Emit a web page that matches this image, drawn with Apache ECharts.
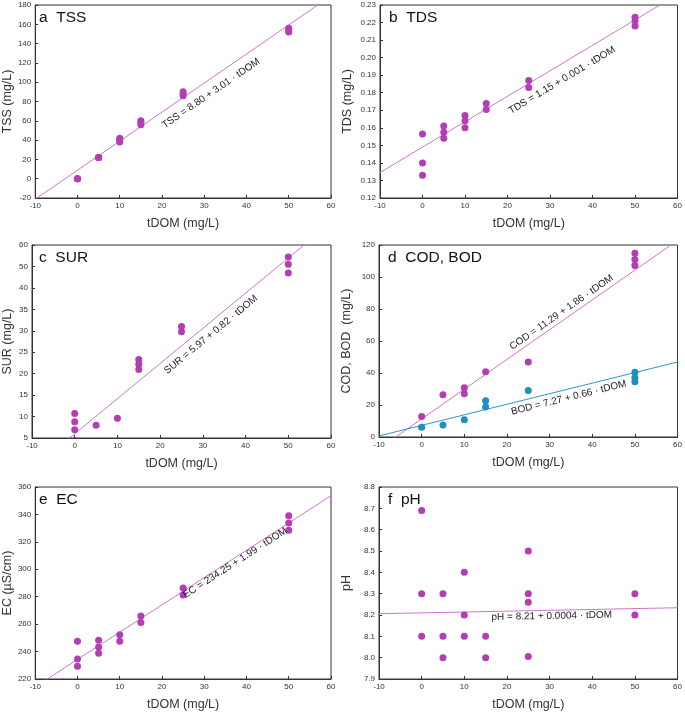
<!DOCTYPE html>
<html>
<head>
<meta charset="utf-8">
<script src="https://cdn.jsdelivr.net/npm/echarts@6/dist/echarts.min.js"></script>
<style>
html,body{margin:0;padding:0;background:#fff;}
#chart{width:685px;height:712px;}
</style>
</head>
<body>
<div id="chart"></div>
<script>
// ---------- data ----------
var tssX = [0,0,0,5,5,5,10,10,10,15,15,15,25,25,25,50,50,50];
var tssY = [0,0,0,22,22,22,42,40,38,60,58,56,90,88,86,156,154,152];

var tdsX = [0,0,0,5,5,5,10,10,10,15,15,25,25,50,50,50];
var tdsY = [0.1565,0.140,0.133,0.161,0.1575,0.154,0.167,0.164,0.160,0.1738,0.1705,0.187,0.183,0.223,0.221,0.218];

// SUR is plotted on the original's evenly spaced axis (tick positions 5..50)
var surX = [0,0,0,5,10,15,15,15,25,25,50,50,50];
var surY = [10.7,8.8,6.9,8.0,9.6,23.3,22.2,21.0,31.0,29.8,47.2,45.5,43.5];
var surTickLabels = ['5','10','15','20','25','30','35','40','50','60'];

var codX = [0,5,10,10,15,25,50,50,50];
var codY = [12.8,26.4,30.8,27.0,40.8,46.9,114.8,111.0,107.2];
var bodX = [0,5,10,15,15,25,50,50,50];
var bodY = [6.1,7.5,10.8,22.7,18.8,29.0,40.4,37.1,34.6];

var ecX = [0,0,0,5,5,5,10,10,15,15,25,25,50,50,50];
var ecY = [247.5,234.6,229.3,248.3,243.4,238.7,252.2,247.5,266.0,261.2,286.4,281.3,339.1,333.8,328.4];

var phX = [0,0,0,5,5,5,10,10,10,15,15,25,25,25,25,50,50];
var phY = [8.69,8.30,8.10,8.30,8.10,8.00,8.40,8.20,8.10,8.10,8.00,8.50,8.30,8.26,8.005,8.30,8.20];

// regression lines as drawn [intercept, slope]
var fitTSS = [8.80, 3.01];
var fitTDS = [0.149, 0.00145];
var fitSUR = [5.97, 0.82];
var fitCOD = [11.29, 1.86];
var fitBOD = [7.27, 0.66];
var fitEC  = [234.25, 1.99];
var fitPH  = [8.21, 0.0004];

var eqTexts = ['TSS = 8.80 + 3.01 · tDOM','TDS = 1.15 + 0.001 · tDOM','SUR = 5.97 + 0.82 · tDOM',
  'COD = 11.29 + 1.86 · tDOM','BOD = 7.27 + 0.66 · tDOM','EC = 234.25 + 1.99 · tDOM','pH = 8.21 + 0.0004 · tDOM'];
var panelTitles = ['a  TSS','b  TDS','c  SUR','d  COD, BOD','e  EC','f  pH'];
var yNames = ['TSS (mg/L)','TDS (mg/L)','SUR (mg/L)','COD, BOD  (mg/L)','EC (\u00b5S/cm)','pH'];
var xName = 'tDOM (mg/L)';

// ---------- layout ----------
var grids = [
  {left:30, top:5, width:301, height:193},
  {left:380, top:5, width:300, height:193},
  {left:30, top:245, width:301, height:193},
  {left:379, top:245, width:301, height:192},
  {left:30, top:487, width:301, height:192},
  {left:379, top:487, width:301, height:192}
];
var yRanges = [
  {min:-20, max:180, interval:20, fmt:function(v){return String(v);}},
  {min:0.12, max:0.23, interval:0.01, fmt:function(v){return v.toFixed(2);}},
  {min:5, max:50, interval:5, fmt:function(v){var i=Math.round((v-5)/5); return surTickLabels[i]||'';}},
  {min:0, max:120, interval:20, fmt:function(v){return String(v);}},
  {min:220, max:360, interval:20, fmt:function(v){return String(v);}},
  {min:7.9, max:8.8, interval:0.1, fmt:function(v){return v.toFixed(1);}}
];

var MAG = '#b23db4', MAGL = '#d173d3', BLU = '#1d8fc3', BLUL = '#2f95cc';
var FONT = '"Liberation Sans", Arial, sans-serif';
var TXT = '#333';

function zip(xs, ys){ return xs.map(function(x,i){return [x, ys[i]];}); }
function fitLine(f){ return [[-10, f[0]+f[1]*(-10)], [60, f[0]+f[1]*60]]; }

var option = {
  animation:false,
  backgroundColor:'#fff',
  textStyle:{fontFamily:FONT},
  title: panelTitles.map(function(t,i){
    return {text:t, left:grids[i].left+9, top:grids[i].top+5, padding:0,
      textStyle:{fontSize:15.5, fontWeight:'normal', color:'#111', fontFamily:FONT}};
  }),
  grid: grids.map(function(g){ return Object.assign({show:true, borderColor:'#333', borderWidth:1, backgroundColor:'transparent', containLabel:false}, g); }),
  xAxis: grids.map(function(g,i){
    return {gridIndex:i, type:'value', min:-10, max:60, interval:10,
      name:xName, nameLocation:'middle', nameGap:19,
      nameTextStyle:{fontSize:12.5, color:TXT, fontFamily:FONT},
      axisLine:{show:true, onZero:false, lineStyle:{color:'#333', width:1}},
      axisTick:{show:true, inside:true, length:3, lineStyle:{color:'#333'}},
      axisLabel:{fontSize:8, color:TXT, margin:4, fontFamily:FONT},
      splitLine:{show:false}};
  }),
  yAxis: yRanges.map(function(r,i){
    return {gridIndex:i, type:'value', min:r.min, max:r.max, interval:r.interval,
      name:yNames[i], nameLocation:'middle', nameGap:(i%2===0?18:26),
      nameTextStyle:{fontSize:12.5, color:TXT, fontFamily:FONT},
      axisLine:{show:true, onZero:false, lineStyle:{color:'#333', width:1}},
      axisTick:{show:true, inside:true, length:3, lineStyle:{color:'#333'}},
      axisLabel:{fontSize:8, color:TXT, margin:4, fontFamily:FONT, formatter:r.fmt},
      splitLine:{show:false}};
  }),
  series: []
};

function addPanel(idx, xs, ys, fit, dotColor, lineColor){
  option.series.push({type:'line', xAxisIndex:idx, yAxisIndex:idx, data:fitLine(fit), showSymbol:false,
    symbol:'none', clip:true, lineStyle:{color:lineColor, width:1}, z:2, silent:true});
  option.series.push({type:'scatter', xAxisIndex:idx, yAxisIndex:idx, data:zip(xs,ys), symbolSize:7,
    itemStyle:{color:dotColor, opacity:1}, z:3, clip:false});
}
addPanel(0, tssX, tssY, fitTSS, MAG, MAGL);
addPanel(1, tdsX, tdsY, fitTDS, MAG, MAGL);
addPanel(2, surX, surY, fitSUR, MAG, MAGL);
addPanel(3, codX, codY, fitCOD, MAG, MAGL);
addPanel(3, bodX, bodY, fitBOD, BLU, BLUL);
addPanel(4, ecX, ecY, fitEC, MAG, MAGL);
addPanel(5, phX, phY, fitPH, MAG, MAGL);

var chart = echarts.init(document.getElementById('chart'), null, {renderer:'canvas'});
chart.setOption(option);

// equation annotations, anchored in data coordinates and rotated along their fit line
var eqAnchors = [
  {g:0, fit:fitTSS, at:[31.6, 88.4]},
  {g:1, fit:fitTDS, at:[32.8, 0.1871]},
  {g:2, fit:fitSUR, at:[31.9, 29.1]},
  {g:3, fit:fitCOD, at:[32.8, 77.9]},
  {g:3, fit:fitBOD, at:[34.5, 24.5]},
  {g:4, fit:fitEC, at:[37.3, 304.6]},
  {g:5, fit:fitPH, at:[30.5, 8.195]}
];
var graphics = eqAnchors.map(function(a, i){
  var p1 = chart.convertToPixel({gridIndex:a.g}, [0, a.fit[0]]);
  var p2 = chart.convertToPixel({gridIndex:a.g}, [50, a.fit[0]+a.fit[1]*50]);
  var ang = Math.atan2(p1[1]-p2[1], p2[0]-p1[0]);
  var c = chart.convertToPixel({gridIndex:a.g}, a.at);
  return {type:'text', x:c[0], y:c[1], rotation:ang, z:10,
    style:{text:eqTexts[i], fontSize:10, fill:'#222', align:'center', verticalAlign:'middle', fontFamily:FONT}};
});
chart.setOption({graphic:graphics});
</script>
</body>
</html>
